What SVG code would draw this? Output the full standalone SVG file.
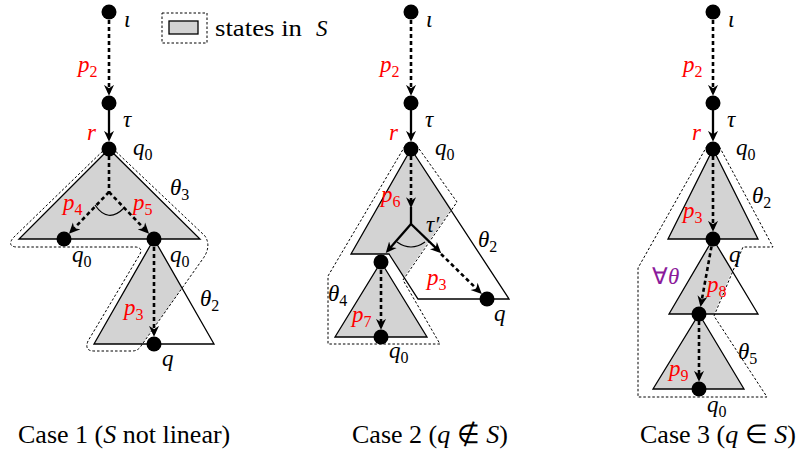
<svg xmlns="http://www.w3.org/2000/svg" width="807" height="453" viewBox="0 0 807 453">
<defs>
<style>
.g{fill:#d3d3d3;stroke:none}
.tri{fill:none;stroke:#000;stroke-width:1.3;stroke-linejoin:miter}
.out{fill:none;stroke:#000;stroke-width:1;stroke-dasharray:2.5 2}
.de{fill:none;stroke:#000;stroke-width:2.6;stroke-dasharray:4 3}
.se{fill:none;stroke:#000;stroke-width:2.3}
.arc{fill:none;stroke:#000;stroke-width:1.2}
.n{fill:#000}
text{font-family:"Liberation Serif","Times New Roman",serif;font-size:23px;fill:#000}
.m{font-style:italic}
.r{fill:#ff0000}
.pu{fill:#8b1a9b}
.sub{font-size:16px;font-style:normal}
.cap{font-size:26px}
</style>
<marker id="ah" markerUnits="userSpaceOnUse" markerWidth="12" markerHeight="12" viewBox="0 -5 11 10" refX="7" refY="0" orient="auto">
<path d="M0,-4.6 L10,0 L0,4.6 L3,0 Z" fill="#000"/>
</marker>
</defs>
<rect width="807" height="453" fill="#fff"/>

<!-- Legend -->
<g id="legend">
<rect x="162" y="13" width="45" height="30" class="out"/>
<rect x="169" y="21" width="29" height="13" fill="#d3d3d3" stroke="#000" stroke-width="1.3"/>
<text x="215" y="36" font-size="25" textLength="87" lengthAdjust="spacingAndGlyphs">states in</text>
<text x="316" y="36" class="m" font-size="25">S</text>
</g>

<!-- Case 1 shapes -->
<g id="case1-shapes">
<polygon class="g" points="109,149 200,239 19,239"/>
<polygon class="g" points="154,239 182,288 142,344 94,344"/>
<polygon class="tri" points="109,149 200,239 19,239"/>
<polygon class="tri" points="154,239 214,344 94,344"/>
<path class="out" d="M109,145 L13,238 Q7,246 16,247 L136,247 Q143,248 140,254 L88,341 Q84,351 94,351 L132,351 Q138,351 141,346 L202,260 Q212,247 205,236 Z"/>
</g>

<!-- Case 2 shapes -->
<g id="case2-shapes">
<polygon class="g" points="411,149 451.5,208.7 404,277 390,254 351,254"/>
<polygon class="g" points="381,262 427,337 335,337"/>
<polygon class="tri" points="411,149 509,299 418,299 389,254 351,254"/>
<polygon class="tri" points="381,262 427,337 335,337"/>
<path class="out" d="M405,146 L328,276 L328,344 L440,344 L403,280 L457,202 L417,146 Z"/>
</g>

<!-- Case 3 shapes -->
<g id="case3-shapes">
<polygon class="g" points="713,149 758,239 668,239"/>
<polygon class="g" points="713,239 732.5,269.5 714,314 669,314"/>
<polygon class="g" points="699,314 744,389 653,389"/>
<polygon class="tri" points="713,149 758,239 668,239"/>
<polygon class="tri" points="713,239 758,314 669,314"/>
<polygon class="tri" points="699,314 744,389 653,389"/>
<path class="out" d="M707,146 L638,268 L638,397 L767,397 L714,316 L743,247 L773,247 L719,146 Z"/>
</g>

<!-- Connectors -->
<g id="connectors">
<!-- case 1 -->
<line class="de" x1="109" y1="20" x2="109" y2="92.5" marker-end="url(#ah)"/>
<line class="se" x1="109" y1="110" x2="109" y2="138.5" marker-end="url(#ah)"/>
<line class="de" x1="109" y1="156" x2="109" y2="192"/>
<line class="de" x1="109" y1="192" x2="71.2" y2="231.4" marker-end="url(#ah)"/>
<line class="de" x1="109" y1="192" x2="146.8" y2="231.4" marker-end="url(#ah)"/>
<path class="arc" d="M95,205 Q108,224 124,208"/>
<line class="de" x1="154" y1="247" x2="154" y2="333.5" marker-end="url(#ah)"/>
<!-- case 2 -->
<line class="de" x1="411" y1="20" x2="411" y2="92.5" marker-end="url(#ah)"/>
<line class="se" x1="411" y1="110" x2="411" y2="138.5" marker-end="url(#ah)"/>
<line class="de" x1="411" y1="156" x2="411" y2="205" marker-end="url(#ah)"/>
<line class="se" x1="411" y1="207" x2="411" y2="224"/>
<line class="se" x1="411" y1="224" x2="387.9" y2="250.6" marker-end="url(#ah)"/>
<line class="se" x1="411" y1="224" x2="438.9" y2="250.9" marker-end="url(#ah)"/>
<line class="de" x1="441" y1="254" x2="479.5" y2="291.7" marker-end="url(#ah)"/>
<path class="arc" d="M397,242 Q411,252 425,242"/>
<line class="de" x1="381" y1="270" x2="381" y2="326.5" marker-end="url(#ah)"/>
<!-- case 3 -->
<line class="de" x1="713" y1="20" x2="713" y2="92.5" marker-end="url(#ah)"/>
<line class="se" x1="713" y1="110" x2="713" y2="138.5" marker-end="url(#ah)"/>
<line class="de" x1="713" y1="156" x2="713" y2="228.5" marker-end="url(#ah)"/>
<line class="de" x1="711.5" y1="246.4" x2="701.1" y2="303.7" marker-end="url(#ah)"/>
<line class="de" x1="699" y1="321" x2="699" y2="378.5" marker-end="url(#ah)"/>
</g>

<!-- Nodes -->
<g id="c1-iota"><circle class="n" cx="109" cy="12" r="7.5"/></g>
<g id="c1-tau"><circle class="n" cx="109" cy="103" r="7.5"/></g>
<g id="c1-q0"><circle class="n" cx="109" cy="149" r="7.5"/></g>
<g id="c1-q0-left"><circle class="n" cx="64" cy="239" r="7.5"/></g>
<g id="c1-q0-right"><circle class="n" cx="154" cy="239" r="7.5"/></g>
<g id="c1-q"><circle class="n" cx="154" cy="344" r="7.5"/></g>

<g id="c2-iota"><circle class="n" cx="411" cy="12" r="7.5"/></g>
<g id="c2-tau"><circle class="n" cx="411" cy="103" r="7.5"/></g>
<g id="c2-q0"><circle class="n" cx="411" cy="149" r="7.5"/></g>
<g id="c2-mid"><circle class="n" cx="381" cy="262" r="7.5"/></g>
<g id="c2-q"><circle class="n" cx="487" cy="299" r="7.5"/></g>
<g id="c2-q0-bottom"><circle class="n" cx="381" cy="337" r="7.5"/></g>

<g id="c3-iota"><circle class="n" cx="713" cy="12" r="7.5"/></g>
<g id="c3-tau"><circle class="n" cx="713" cy="103" r="7.5"/></g>
<g id="c3-q0"><circle class="n" cx="713" cy="149" r="7.5"/></g>
<g id="c3-q"><circle class="n" cx="713" cy="239" r="7.5"/></g>
<g id="c3-mid"><circle class="n" cx="699" cy="314" r="7.5"/></g>
<g id="c3-q0-bottom"><circle class="n" cx="699" cy="389" r="7.5"/></g>

<!-- Labels -->
<g id="labels">
<!-- case 1 -->
<text class="m" x="124" y="27">ι</text>
<text class="m r" x="78" y="72">p<tspan class="sub" dy="5">2</tspan></text>
<text class="m" x="123" y="127">τ</text>
<text class="m r" x="87" y="140">r</text>
<text class="m" x="133" y="155">q<tspan class="sub" dy="5">0</tspan></text>
<text class="m" x="170" y="195">θ<tspan class="sub" dy="5">3</tspan></text>
<text class="m r" x="63" y="210">p<tspan class="sub" dy="5">4</tspan></text>
<text class="m r" x="133" y="210">p<tspan class="sub" dy="5">5</tspan></text>
<text class="m" x="72" y="262">q<tspan class="sub" dy="5">0</tspan></text>
<text class="m" x="170" y="262">q<tspan class="sub" dy="5">0</tspan></text>
<text class="m r" x="124" y="315">p<tspan class="sub" dy="5">3</tspan></text>
<text class="m" x="200" y="306">θ<tspan class="sub" dy="5">2</tspan></text>
<text class="m" x="162" y="366">q</text>
<!-- case 2 -->
<text class="m" x="426" y="27">ι</text>
<text class="m r" x="380" y="72">p<tspan class="sub" dy="5">2</tspan></text>
<text class="m" x="425" y="127">τ</text>
<text class="m r" x="389" y="140">r</text>
<text class="m" x="435" y="155">q<tspan class="sub" dy="5">0</tspan></text>
<text class="m r" x="381" y="202">p<tspan class="sub" dy="5">6</tspan></text>
<text class="m" x="426" y="232">τ′</text>
<text class="m" x="478" y="247">θ<tspan class="sub" dy="5">2</tspan></text>
<text class="m r" x="427" y="285">p<tspan class="sub" dy="5">3</tspan></text>
<text class="m" x="328" y="301">θ<tspan class="sub" dy="5">4</tspan></text>
<text class="m r" x="352" y="322">p<tspan class="sub" dy="5">7</tspan></text>
<text class="m" x="389" y="358">q<tspan class="sub" dy="5">0</tspan></text>
<text class="m" x="494" y="321">q</text>
<!-- case 3 -->
<text class="m" x="728" y="27">ι</text>
<text class="m r" x="683" y="72">p<tspan class="sub" dy="5">2</tspan></text>
<text class="m" x="727" y="127">τ</text>
<text class="m r" x="692" y="140">r</text>
<text class="m" x="736" y="155">q<tspan class="sub" dy="5">0</tspan></text>
<text class="m" x="752" y="203">θ<tspan class="sub" dy="5">2</tspan></text>
<text class="m r" x="683" y="218">p<tspan class="sub" dy="5">3</tspan></text>
<text class="m" x="729" y="262">q</text>
<text class="pu" x="652" y="284">∀<tspan class="m">θ</tspan></text>
<text class="m r" x="707" y="292">p<tspan class="sub" dy="5">8</tspan></text>
<text class="m" x="738" y="359">θ<tspan class="sub" dy="5">5</tspan></text>
<text class="m r" x="669" y="376">p<tspan class="sub" dy="5">9</tspan></text>
<text class="m" x="707" y="412">q<tspan class="sub" dy="5">0</tspan></text>
<!-- captions -->
<text class="cap" x="18" y="443">Case 1 (<tspan class="m">S</tspan> not linear)</text>
<text class="cap" x="352" y="443">Case 2 (<tspan class="m">q</tspan> ∉ <tspan class="m">S</tspan>)</text>
<text class="cap" x="640" y="443">Case 3 (<tspan class="m">q</tspan> ∈ <tspan class="m">S</tspan>)</text>
</g>
</svg>
